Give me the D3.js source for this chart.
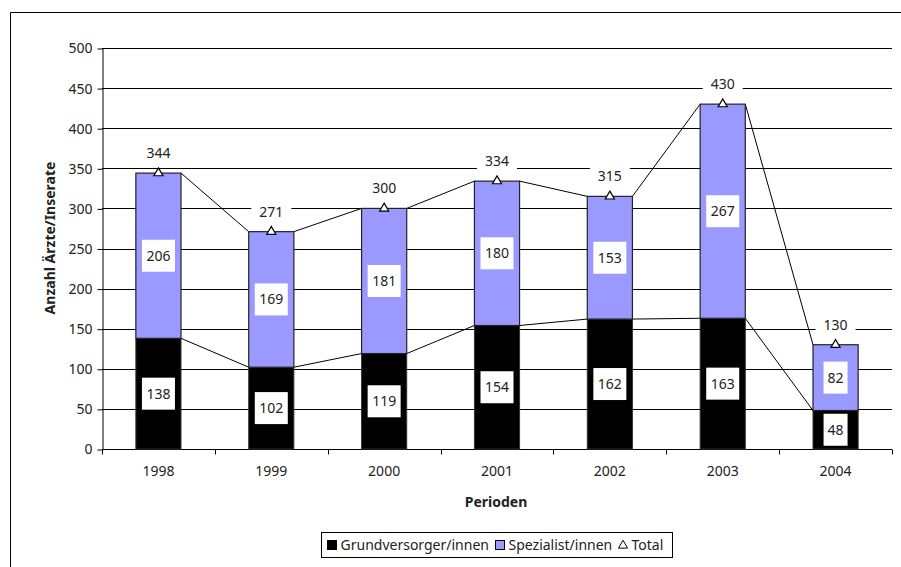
<!DOCTYPE html>
<html>
<head>
<meta charset="utf-8">
<script src="https://cdn.jsdelivr.net/npm/d3@7"></script>
<style>
  body { margin: 0; background: #fff; }
  text { font-family: "Noto Sans", "Open Sans", sans-serif; fill: #222; }
</style>
</head>
<body>
<div id="chart"></div>
<script>
// stacked bars: Grundversorger + Spezialist, with total markers

var years = ['1998', '1999', '2000', '2001', '2002', '2003', '2004'];
var grund = [138, 102, 119, 154, 162, 163, 48];
var spez = [206, 169, 181, 180, 153, 267, 82];
var total = [344, 271, 300, 334, 315, 430, 130];
var yTicks = [0, 50, 100, 150, 200, 250, 300, 350, 400, 450, 500];
var seriesNames = ['Grundversorger/innen', 'Spezialist/innen', 'Total'];

(function() {
  var W = 901, H = 567;
  var margin = { top: 48, left: 102, right: 9, bottom: 118 };
  var width = W - margin.left - margin.right,
      height = H - margin.top - margin.bottom;
  var fs = 14;

  var svg = d3.select("#chart").append("svg")
    .attr("width", W).attr("height", H);

  // outer chart border
  svg.append("path")
    .attr("d", "M10.5," + H + "V12.5H" + W)
    .attr("fill", "none").attr("stroke", "#000").attr("stroke-width", 1);

  var g = svg.append("g")
    .attr("transform", "translate(" + margin.left + "," + margin.top + ")");

  var x = d3.scaleBand().domain(years).range([0, width]).paddingInner(0.6).paddingOuter(0.3);
  var y = d3.scaleLinear().domain([0, 500]).range([height, 0]);

  var data = years.map(function(yr, i) {
    return { year: yr, g: grund[i], s: spez[i], t: total[i] };
  });

  // gridlines
  g.selectAll(".grid").data(yTicks.slice(1))
    .enter().append("line")
    .attr("x1", 0).attr("x2", width)
    .attr("y1", function(d) { return Math.round(y(d)) + 0.5; })
    .attr("y2", function(d) { return Math.round(y(d)) + 0.5; })
    .attr("stroke", "#000").attr("stroke-width", 1);

  // y axis
  var yAxis = g.append("g").attr("transform", "translate(0.5,0.5)")
    .call(d3.axisLeft(y).tickValues(yTicks).tickSize(5).tickSizeOuter(0));
  yAxis.selectAll("text").attr("font-size", fs).attr("dx", "-2");
  yAxis.selectAll("line, path").attr("stroke", "#000");

  // x axis line + ticks at category boundaries
  var xg = g.append("g").attr("transform", "translate(0," + (height + 0.5) + ")");
  xg.append("line").attr("x1", 0).attr("x2", width).attr("stroke", "#000");
  xg.selectAll(".xt").data(d3.range(years.length + 1))
    .enter().append("line")
    .attr("x1", function(i) { return Math.round(i * width / years.length) + 0.5; })
    .attr("x2", function(i) { return Math.round(i * width / years.length) + 0.5; })
    .attr("y1", 0).attr("y2", 5).attr("stroke", "#000");
  xg.selectAll(".xl").data(years)
    .enter().append("text")
    .attr("x", function(d) { return x(d) + x.bandwidth() / 2; })
    .attr("y", 26)
    .attr("text-anchor", "middle")
    .attr("font-size", fs)
    .text(function(d) { return d; });

  // series lines between bar tops
  var bw = x.bandwidth();
  var links = [];
  for (var i = 0; i < data.length - 1; i++) {
    links.push({ x1: x(data[i].year) + bw, y1: y(data[i].g), x2: x(data[i + 1].year), y2: y(data[i + 1].g) });
    links.push({ x1: x(data[i].year) + bw, y1: y(data[i].t), x2: x(data[i + 1].year), y2: y(data[i + 1].t) });
  }
  g.selectAll(".link").data(links)
    .enter().append("line")
    .attr("x1", function(d) { return d.x1; })
    .attr("y1", function(d) { return d.y1; })
    .attr("x2", function(d) { return d.x2; })
    .attr("y2", function(d) { return d.y2; })
    .attr("stroke", "#000").attr("stroke-width", 1);

  // bars
  g.selectAll(".bar-g").data(data)
    .enter().append("rect")
    .attr("x", function(d) { return x(d.year); })
    .attr("y", function(d) { return y(d.g); })
    .attr("width", bw)
    .attr("height", function(d) { return y(0) - y(d.g); })
    .attr("fill", "#000").attr("stroke", "#333").attr("stroke-width", 1);

  g.selectAll(".bar-s").data(data)
    .enter().append("rect")
    .attr("x", function(d) { return x(d.year); })
    .attr("y", function(d) { return y(d.g + d.s); })
    .attr("width", bw)
    .attr("height", function(d) { return y(d.g) - y(d.g + d.s); })
    .attr("fill", "#9999FF").attr("stroke", "#222").attr("stroke-width", 1.2);

  // value labels in white boxes
  function boxLabel(cx, cy, txt) {
    var bwid = String(txt).length > 2 ? 33 : 24;
    g.append("rect")
      .attr("x", cx - bwid / 2).attr("y", cy - 16)
      .attr("width", bwid).attr("height", 32)
      .attr("fill", "#fff");
    g.append("text")
      .attr("x", cx).attr("y", cy)
      .attr("dy", "0.36em")
      .attr("text-anchor", "middle")
      .attr("font-size", fs)
      .text(txt);
  }
  data.forEach(function(d) {
    var cx = x(d.year) + bw / 2;
    boxLabel(cx, (y(0) + y(d.g)) / 2, d.g);
    boxLabel(cx, (y(d.g) + y(d.g + d.s)) / 2, d.s);
  });

  // total labels (white background cuts the gridline)
  data.forEach(function(d) {
    var cx = x(d.year) + bw / 2, cy = y(d.t) - 20;
    g.append("rect")
      .attr("x", cx - 20).attr("y", cy - 9)
      .attr("width", 40).attr("height", 18)
      .attr("fill", "#fff");
    g.append("text")
      .attr("x", cx).attr("y", cy)
      .attr("dy", "0.36em")
      .attr("text-anchor", "middle")
      .attr("font-size", fs)
      .text(d.t);
  });

  // total markers
  var tri = d3.symbol().type(d3.symbolTriangle).size(36);
  g.selectAll(".marker").data(data)
    .enter().append("path")
    .attr("d", tri)
    .attr("transform", function(d) { return "translate(" + (x(d.year) + bw / 2) + "," + y(d.t) + ")"; })
    .attr("fill", "#fff").attr("stroke", "#000").attr("stroke-width", 1.2);

  // axis titles
  svg.append("text")
    .attr("transform", "translate(50,238) rotate(-90)")
    .attr("dy", "0.36em")
    .attr("text-anchor", "middle")
    .attr("font-size", 14).attr("font-weight", "bold")
    .text("Anzahl Ärzte/Inserate");
  svg.append("text")
    .attr("x", margin.left + width / 2 - 1).attr("y", 507)
    .attr("text-anchor", "middle")
    .attr("font-size", 14).attr("font-weight", "bold")
    .text("Perioden");

  // legend
  var lg = svg.append("g").attr("transform", "translate(321.5,532.5)");
  lg.append("rect").attr("width", 351).attr("height", 25)
    .attr("fill", "#fff").attr("stroke", "#000");
  var lx = [6, 174, 297];
  var item = lg.selectAll(".item").data(seriesNames)
    .enter().append("g")
    .attr("transform", function(d, i) { return "translate(" + lx[i] + ",12.5)"; });
  item.each(function(d, i) {
    var s = d3.select(this);
    if (i < 2) {
      s.append("rect").attr("x", 0).attr("y", -4.5).attr("width", 9).attr("height", 9)
        .attr("fill", i === 0 ? "#000" : "#9999FF").attr("stroke", "#000");
    } else {
      s.append("path").attr("d", tri).attr("transform", "translate(4.5,0.5)")
        .attr("fill", "#fff").attr("stroke", "#000");
    }
    s.append("text").attr("x", 13).attr("dy", "0.36em")
      .attr("font-size", fs).text(d);
  });
})();
</script>
</body>
</html>
